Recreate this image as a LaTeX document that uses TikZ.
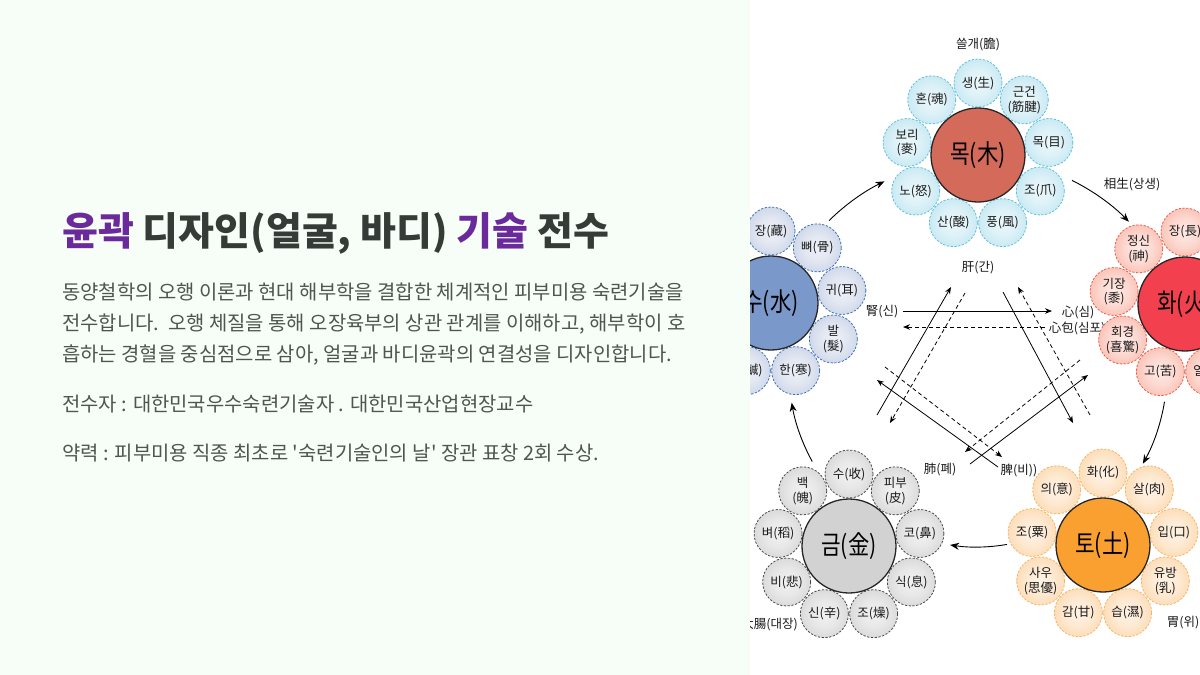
\documentclass[tikz,border=0pt]{standalone}
\usepackage{graphicx}
\usepackage{fontspec}
\setmainfont{Noto Sans CJK KR}
\newfontfamily\kr{Noto Sans CJK KR}
\usetikzlibrary{arrows.meta,calc}
\definecolor{leftbg}{HTML}{F7FDF7}
\definecolor{ttl}{HTML}{353B37}
\definecolor{pur}{HTML}{6A2A9C}
\definecolor{bodyc}{HTML}{4F5551}
\definecolor{woodm}{HTML}{D46A5A}
\definecolor{woodp}{HTML}{9ED8EA}
\definecolor{woodb}{HTML}{5EC0DC}
\definecolor{firem}{HTML}{F3404F}
\definecolor{firep}{HTML}{F7957F}
\definecolor{fireb}{HTML}{EE5B4B}
\definecolor{earthm}{HTML}{F9A030}
\definecolor{earthp}{HTML}{FBC280}
\definecolor{earthb}{HTML}{F8B464}
\definecolor{metalm}{HTML}{D2D2D2}
\definecolor{metalp}{HTML}{BDBDBD}
\definecolor{metalb}{HTML}{4A4A4A}
\definecolor{waterm}{HTML}{7A98C9}
\definecolor{waterp}{HTML}{AAB9D8}
\definecolor{waterb}{HTML}{3D70B5}
\pgfdeclareradialshading{woodsh}{\pgfpoint{0bp}{0bp}}{color(0bp)=(white!80!woodp); color(14bp)=(white!65!woodp); color(50bp)=(woodp)}
\pgfdeclareradialshading{firesh}{\pgfpoint{0bp}{0bp}}{color(0bp)=(white!80!firep); color(14bp)=(white!65!firep); color(50bp)=(firep)}
\pgfdeclareradialshading{earthsh}{\pgfpoint{0bp}{0bp}}{color(0bp)=(white!80!earthp); color(14bp)=(white!65!earthp); color(50bp)=(earthp)}
\pgfdeclareradialshading{metalsh}{\pgfpoint{0bp}{0bp}}{color(0bp)=(white!80!metalp); color(14bp)=(white!65!metalp); color(50bp)=(metalp)}
\pgfdeclareradialshading{watersh}{\pgfpoint{0bp}{0bp}}{color(0bp)=(white!80!waterp); color(14bp)=(white!65!waterp); color(50bp)=(waterp)}
\tikzset{
  petal/.style={circle, minimum size=48pt, inner sep=0pt, line width=0.8pt,
    dash pattern=on 2.2pt off 1.6pt, align=center,
    font=\kr\fontsize{12.5}{14.5}\selectfont, text=black!90},
  wp/.style={petal, draw=woodb, shade, shading=woodsh},
  fp/.style={petal, draw=fireb, shade, shading=firesh},
  ep/.style={petal, draw=earthb, shade, shading=earthsh},
  mp/.style={petal, draw=metalb, shade, shading=metalsh},
  ap/.style={petal, draw=waterb, shade, shading=watersh},
  elem/.style={circle, minimum size=94pt, inner sep=0pt, draw=black!85,
    line width=1.3pt, font=\kr\fontsize{26}{30}\selectfont},
  organ/.style={font=\kr\fontsize{12.5}{14}\selectfont, inner sep=1pt, text=black!90},
  cyc/.style={line width=0.9pt, -{Stealth[length=9pt,width=7pt]}},
  sarr/.style={line width=0.8pt, -{Stealth[length=7pt,width=5.5pt]}},
  darr/.style={sarr, dash pattern=on 4pt off 3pt},
  bodytxt/.style={anchor=base west, inner sep=0pt, text=bodyc,
    font=\kr\fontsize{19.9}{24}\selectfont},
}
\newcommand\mypetal[5]{\node[#2] (#1) at ($(#3)+({-(#4)}:72)$) {#5};}
\newcommand\elemtxt[1]{\scalebox{0.82}[1]{#1}}
\begin{document}
\begin{tikzpicture}[x=1pt,y=-1pt]
\useasboundingbox (0,0) rectangle (1200,675);
\fill[leftbg] (0,0) rectangle (750,675);
\fill[white] (750,0) rectangle (1200,675);

% ---- left text ----
\node[anchor=base west, inner sep=0pt, text=ttl, font=\kr\bfseries\fontsize{39}{44}\selectfont] (title) at (62,245)
  {\textcolor{pur}{윤곽} 디자인(얼굴, 바디) \textcolor{pur}{기술} 전수};
\node[bodytxt] (b1) at (62,299.5) {동양철학의 오행 이론과 현대 해부학을 결합한 체계적인 피부미용 숙련기술을};
\node[bodytxt] (b2) at (62,330.5) {전수합니다.\ \ 오행 체질을 통해 오장육부의 상관 관계를 이해하고, 해부학이 호};
\node[bodytxt] (b3) at (62,361.5) {흡하는 경혈을 중심점으로 삼아, 얼굴과 바디윤곽의 연결성을 디자인합니다.};
\node[bodytxt] (b4) at (62,411.5) {전수자 : 대한민국우수숙련기술자 . 대한민국산업현장교수};
\node[bodytxt] (b5) at (62,460.5) {약력 : 피부미용 직종 최초로 '숙련기술인의 날' 장관 표창 2회 수상.};

% ---- diagram ----
\begin{scope}
\clip (750,0) rectangle (1200,675);
\coordinate (W) at (978,155);
\coordinate (F) at (1185,304);
\coordinate (E) at (1103,545);
\coordinate (M) at (849,546);
\coordinate (A) at (771,303);
\coordinate (ctr) at (977,371);

% organ labels
\node[organ] (gall) at (978,44) {쓸개(膽)};
\node[organ] (sang) at (1132,184) {相生(상생)};
\node[organ] (liver) at (978,268) {肝(간)};
\node[organ] (kid) at (882,312) {腎(신)};
\node[organ] (heart) at (1078,312) {心(심)};
\node[organ] (peri) at (1077,328) {心包(심포)};
\node[organ] (lung) at (940,470) {肺(폐)};
\node[organ] (spl) at (1019,470) {脾(비))};
\node[organ, anchor=east] (li) at (799,624) {大腸(대장)};
\node[organ] (stom) at (1183,623) {胃(위)};

% wood
\mypetal{w1}{wp}{W}{90}{생(生)}
\mypetal{w2}{wp}{W}{50}{근건\\(筋腱)}
\mypetal{w3}{wp}{W}{10}{목(目)}
\mypetal{w4}{wp}{W}{-30}{조(爪)}
\mypetal{w5}{wp}{W}{-70}{풍(風)}
\mypetal{w6}{wp}{W}{-110}{산(酸)}
\mypetal{w7}{wp}{W}{-150}{노(怒)}
\mypetal{w8}{wp}{W}{170}{보리\\(麥)}
\mypetal{w9}{wp}{W}{130}{혼(魂)}
\node[elem, fill=woodm] (Wn) at (W) {\elemtxt{목(木)}};

% fire
\mypetal{f1}{fp}{F}{90}{장(長)}
\mypetal{f2}{fp}{F}{130}{정신\\(神)}
\mypetal{f3}{fp}{F}{170}{기장\\(黍)}
\mypetal{f4}{fp}{F}{210}{회경\\(喜驚)}
\mypetal{f5}{fp}{F}{250}{고(苦)}
\mypetal{f6}{fp}{F}{290}{열(熱)}
\node[elem, fill=firem] (Fn) at (F) {\elemtxt{화(火)}};

% earth
\mypetal{e1}{ep}{E}{90}{화(化)}
\mypetal{e2}{ep}{E}{50}{살(肉)}
\mypetal{e3}{ep}{E}{10}{입(口)}
\mypetal{e4}{ep}{E}{-30}{유방\\(乳)}
\mypetal{e5}{ep}{E}{-70}{습(濕)}
\mypetal{e6}{ep}{E}{-110}{감(甘)}
\mypetal{e7}{ep}{E}{-150}{사우\\(思優)}
\mypetal{e8}{ep}{E}{170}{조(粟)}
\mypetal{e9}{ep}{E}{130}{의(意)}
\node[elem, fill=earthm] (En) at (E) {\elemtxt{토(土)}};

% metal
\mypetal{m1}{mp}{M}{90}{수(收)}
\mypetal{m2}{mp}{M}{50}{피부\\(皮)}
\mypetal{m3}{mp}{M}{10}{코(鼻)}
\mypetal{m4}{mp}{M}{-30}{식(息)}
\mypetal{m5}{mp}{M}{-70}{조(燥)}
\mypetal{m6}{mp}{M}{-110}{신(辛)}
\mypetal{m7}{mp}{M}{-150}{비(悲)}
\mypetal{m8}{mp}{M}{170}{벼(稻)}
\mypetal{m9}{mp}{M}{130}{백\\(魄)}
\node[elem, fill=metalm] (Mn) at (M) {\elemtxt{금(金)}};

% water
\mypetal{a1}{ap}{A}{90}{장(藏)}
\mypetal{a2}{ap}{A}{50}{뼈(骨)}
\mypetal{a3}{ap}{A}{10}{귀(耳)}
\mypetal{a4}{ap}{A}{-30}{발\\(髮)}
\mypetal{a5}{ap}{A}{-70}{한(寒)}
\mypetal{a6}{ap}{A}{-110}{함(鹹)}
\node[elem, fill=waterm] (An) at (A) {\elemtxt{수(水)}};

% cycle arrows
\coordinate (c1) at ($(ctr)+(-134.5:211)$);
\coordinate (c2) at ($(ctr)+(-63.5:213)$);
\coordinate (c3) at ($(ctr)+(9.3:190)$);
\coordinate (c4) at ($(ctr)+(80.2:176)$);
\coordinate (c5) at ($(ctr)+(151.2:188)$);
\draw[cyc] (c1) arc[start angle=-134.5, end angle=-116, radius=211];
\draw[cyc] (c2) arc[start angle=-63.5, end angle=-44.5, radius=213];
\draw[cyc] (c3) arc[start angle=9.3, end angle=29.2, radius=190];
\draw[cyc] (c4) arc[start angle=80.2, end angle=98.8, radius=176];
\draw[cyc] (c5) arc[start angle=151.2, end angle=170.3, radius=188];

% centre arrows
\coordinate (p1s) at (903,311);  \coordinate (p1e) at (1052,311);
\coordinate (p2s) at (1045,327); \coordinate (p2e) at (903,327);
\coordinate (p3s) at (877,415);  \coordinate (p3e) at (951,287);
\coordinate (p4s) at (965,293);  \coordinate (p4e) at (890,423);
\coordinate (p5s) at (1003,292); \coordinate (p5e) at (1073,423);
\coordinate (p6s) at (1090,415); \coordinate (p6e) at (1018,287);
\coordinate (p7s) at (970,464);  \coordinate (p7e) at (1088,375);
\coordinate (p8s) at (1080,360); \coordinate (p8e) at (965,452);
\coordinate (p9s) at (998,467);  \coordinate (p9e) at (877,380);
\coordinate (p10s) at (885,367); \coordinate (p10e) at (1002,457);
\draw[sarr] (p1s) -- (p1e);
\draw[darr] (p2s) -- (p2e);
\draw[sarr] (p3s) -- (p3e);
\draw[darr] (p4s) -- (p4e);
\draw[sarr] (p5s) -- (p5e);
\draw[darr] (p6s) -- (p6e);
\draw[sarr] (p7s) -- (p7e);
\draw[darr] (p8s) -- (p8e);
\draw[sarr] (p9s) -- (p9e);
\draw[darr] (p10s) -- (p10e);
\end{scope}
\end{tikzpicture}
\end{document}
